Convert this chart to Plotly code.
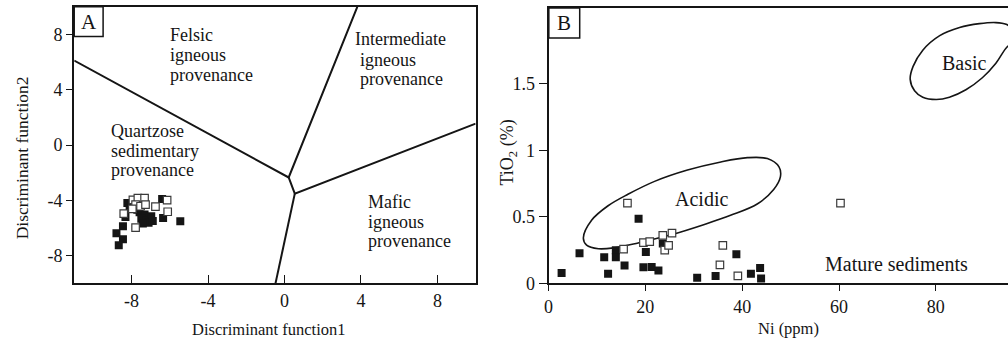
import plotly.graph_objects as go

W, H = 1008, 352
FONT = "Liberation Serif, Times New Roman, serif"
INK = "#151515"

# ---------------- Panel A: discriminant-function provenance diagram ----------------
df1_filled = [-8.22, -8.10, -8.32, -8.45, -8.79, -8.45, -8.67, -7.58, -7.32, -7.49,
              -7.23, -6.97, -7.11, -7.41, -6.89, -6.40, -6.35, -5.45, -7.70]
df2_filled = [-4.19, -4.61, -5.20, -5.86, -6.37, -6.80, -7.24, -4.85, -5.01, -5.32,
              -5.44, -5.15, -5.62, -5.67, -5.48, -3.89, -5.27, -5.51, -4.68]
df1_open = [-8.41, -7.93, -7.67, -7.32, -7.79, -7.53, -6.75, -6.14, -6.11, -7.79,
            -7.27, -7.96]
df2_open = [-4.96, -3.96, -3.84, -3.84, -4.31, -4.42, -4.45, -3.98, -4.82, -5.97,
            -4.31, -4.61]

# field boundaries (segments separated by None)
bound_x = [-11, 0.22, 3.81, None, 0.22, 0.54, 10, None, 0.54, -0.47]
bound_y = [6.11, -2.34, 10, None, -2.34, -3.51, 1.55, None, -3.51, -10]

# field names, one entry per text line: (text, x, y)
field_lines_a = [
    ("Felsic", -6.11, 7.99), ("igneous", -6.11, 6.53), ("provenance", -6.11, 5.08),
    ("Intermediate", 3.61, 7.66), ("igneous", 3.84, 6.18), ("provenance", 3.84, 4.77),
    ("Quartzose", -9.19, 1.02), ("sedimentary", -9.19, -0.41), ("provenance", -9.19, -1.80),
    ("Mafic", 4.27, -4.14), ("igneous", 4.27, -5.58), ("provenance", 4.27, -6.96),
]
xticks_a = [-8, -4, 0, 4, 8]
xticklabels_a = ["-8", "-4", "0", "4", "8"]
xminor_a = [-10, -6, -2, 2, 6]
yticks_a = [-8, -4, 0, 4, 8]
yticklabels_a = ["-8", "-4", "0", "4", "8"]

# ---------------- Panel B: TiO2 vs Ni ----------------
ni_filled = [2.7, 6.4, 11.5, 12.3, 13.9, 13.9, 15.7, 18.6, 20.1, 19.6, 21.3, 22.7,
             23.6, 30.7, 34.5, 38.8, 41.8, 43.7, 43.9]
tio2_filled = [0.078, 0.226, 0.197, 0.072, 0.248, 0.197, 0.134, 0.486, 0.236, 0.121,
               0.123, 0.097, 0.30, 0.043, 0.056, 0.219, 0.073, 0.115, 0.036]
ni_open = [16.3, 15.5, 19.6, 20.9, 23.6, 25.5, 24.0, 24.8, 36.0, 35.4, 39.1, 60.3]
tio2_open = [0.603, 0.258, 0.306, 0.313, 0.36, 0.377, 0.25, 0.285, 0.285, 0.139,
             0.056, 0.603]

# outline of the acidic field
acidic_x = [7.19, 8.89, 12.3, 16.4, 21.9, 28.7, 35.6, 41.1, 45.2, 47.6, 47.9, 46.5,
            43.1, 37.6, 32.2, 25.3, 18.5, 13.7, 10.3, 7.86, 7.19]
acidic_y = [0.341, 0.474, 0.583, 0.669, 0.766, 0.851, 0.912, 0.944, 0.937, 0.875,
            0.802, 0.705, 0.596, 0.511, 0.443, 0.365, 0.304, 0.268, 0.26, 0.287, 0.341]
# outline of the basic field
basic_x = [74.7, 75.3, 77.3, 80.8, 84.9, 89.0, 92.4, 94.5, 96.2, 95.8, 94.7, 92.4,
           89.6, 86.2, 82.8, 80.1, 77.3, 75.6, 74.7]
basic_y = [1.532, 1.629, 1.751, 1.860, 1.921, 1.950, 1.958, 1.945, 1.897, 1.80,
           1.775, 1.653, 1.544, 1.454, 1.398, 1.381, 1.398, 1.447, 1.532]

field_labels_b = [("Acidic", 31.5, 0.632), ("Basic", 85.9, 1.654),
                  ("Mature sediments", 71.8, 0.142)]
xticks_b = [0, 20, 40, 60, 80]
yticks_b = [0, 0.5, 1, 1.5]
yticklabels_b = ["0", "0.5", "1", "1.5"]


def px_x(px):
    return px / W


def px_y(py):
    return 1 - py / H


fig = go.Figure()

filled_marker = dict(symbol="square", size=8, color=INK, line=dict(width=0))
open_marker = dict(symbol="square", size=7.5, color="white", line=dict(width=1.2, color="#3a3a3a"))

# Panel A traces
fig.add_trace(go.Scatter(x=bound_x, y=bound_y, mode="lines",
                         line=dict(color=INK, width=2), xaxis="x", yaxis="y",
                         hoverinfo="skip"))
fig.add_trace(go.Scatter(x=df1_filled, y=df2_filled, mode="markers",
                         marker=filled_marker, xaxis="x", yaxis="y"))
fig.add_trace(go.Scatter(x=df1_open, y=df2_open, mode="markers",
                         marker=open_marker, xaxis="x", yaxis="y"))

# Panel B traces
fig.add_trace(go.Scatter(x=acidic_x, y=acidic_y, mode="lines",
                         line=dict(color=INK, width=1.6, shape="spline", smoothing=1.0),
                         xaxis="x2", yaxis="y2", hoverinfo="skip"))
fig.add_trace(go.Scatter(x=basic_x, y=basic_y, mode="lines",
                         line=dict(color=INK, width=1.6, shape="spline", smoothing=1.0),
                         xaxis="x2", yaxis="y2", hoverinfo="skip"))
fig.add_trace(go.Scatter(x=ni_filled, y=tio2_filled, mode="markers",
                         marker=filled_marker, xaxis="x2", yaxis="y2"))
fig.add_trace(go.Scatter(x=ni_open, y=tio2_open, mode="markers",
                         marker=open_marker, xaxis="x2", yaxis="y2"))

annotations = []
for txt, x, y in field_lines_a:
    annotations.append(dict(text=txt, x=x, y=y, xref="x", yref="y", xanchor="left",
                            yanchor="middle", showarrow=False,
                            font=dict(family=FONT, size=18, color=INK)))
for txt, x, y in field_labels_b:
    annotations.append(dict(text=txt, x=x, y=y, xref="x2", yref="y2", xanchor="center",
                            yanchor="middle", showarrow=False,
                            font=dict(family=FONT, size=20, color=INK)))

# axis titles and panel letters
title_font = dict(family=FONT, size=16.5, color=INK)
annotations += [
    dict(text="Discriminant function1", x=px_x(266), y=px_y(339), xref="paper", yref="paper",
         showarrow=False, xanchor="center", yanchor="middle", font=title_font),
    dict(text="Discriminant function2", x=px_x(18), y=px_y(162), xref="paper", yref="paper",
         showarrow=False, xanchor="center", yanchor="middle", textangle=-90,
         font=dict(family=FONT, size=17.5, color=INK)),
    dict(text="Ni (ppm)", x=px_x(788), y=px_y(338), xref="paper", yref="paper",
         showarrow=False, xanchor="center", yanchor="middle", font=title_font),
    dict(text="TiO<sub>2</sub> (%)", x=px_x(507), y=px_y(157), xref="paper", yref="paper",
         showarrow=False, xanchor="center", yanchor="middle", textangle=-90,
         font=dict(family=FONT, size=18, color=INK)),
    dict(text="A", x=px_x(85.5), y=px_y(23), xref="paper", yref="paper",
         showarrow=False, xanchor="center", yanchor="middle",
         font=dict(family=FONT, size=21, color=INK)),
    dict(text="B", x=px_x(562.5), y=px_y(24), xref="paper", yref="paper",
         showarrow=False, xanchor="center", yanchor="middle",
         font=dict(family=FONT, size=21, color=INK)),
]

shapes = [
    dict(type="rect", xref="paper", yref="paper", x0=px_x(70.5), x1=px_x(99.5),
         y0=px_y(37.5), y1=px_y(7), line=dict(color=INK, width=1.5)),
    dict(type="rect", xref="paper", yref="paper", x0=px_x(547), x1=px_x(578),
         y0=px_y(39), y1=px_y(8.3), line=dict(color=INK, width=1.5)),
]

tick_font = dict(family=FONT, size=18, color=INK)
axis_common = dict(showgrid=False, zeroline=False, showline=True, linecolor=INK,
                   linewidth=2, tickcolor=INK, tickwidth=1, tickfont=tick_font)

dom_xa = [px_x(70.5), px_x(473.5)]
dom_ya = [px_y(291.7), px_y(7)]

fig.update_layout(
    width=W, height=H,
    margin=dict(l=0, r=0, t=0, b=0),
    paper_bgcolor="white", plot_bgcolor="white",
    showlegend=False,
    annotations=annotations,
    shapes=shapes,
    xaxis=dict(domain=dom_xa, range=[-11, 10], anchor="y",
               mirror=True, ticks="inside", ticklen=8, tickmode="array",
               tickvals=xticks_a, ticktext=xticklabels_a, **axis_common),
    # unlabelled intermediate ticks on the bottom axis of panel A
    xaxis3=dict(domain=dom_xa, range=[-11, 10], anchor="y", overlaying="x",
                side="bottom", showline=False, showgrid=False, zeroline=False,
                ticks="inside", ticklen=8, tickwidth=1, tickcolor=INK,
                tickmode="array", tickvals=xminor_a, showticklabels=False),
    yaxis=dict(domain=dom_ya, range=[-10, 10], anchor="x",
               mirror=True, ticks="outside", ticklen=6, tickmode="array",
               tickvals=yticks_a, ticktext=yticklabels_a, **axis_common),
    xaxis2=dict(domain=[px_x(546.7), 1.0], range=[0, 94.9], anchor="y2",
                mirror=True, ticks="outside", ticklen=6, tickmode="array",
                tickvals=xticks_b, ticktext=[str(v) for v in xticks_b], **axis_common),
    yaxis2=dict(domain=[px_y(291.7), px_y(8.3)], range=[0, 2.067], anchor="x2",
                mirror=False, ticks="outside", ticklen=8, tickmode="array",
                tickvals=yticks_b, ticktext=yticklabels_b, **axis_common),
)

fig.write_html("out.html")
